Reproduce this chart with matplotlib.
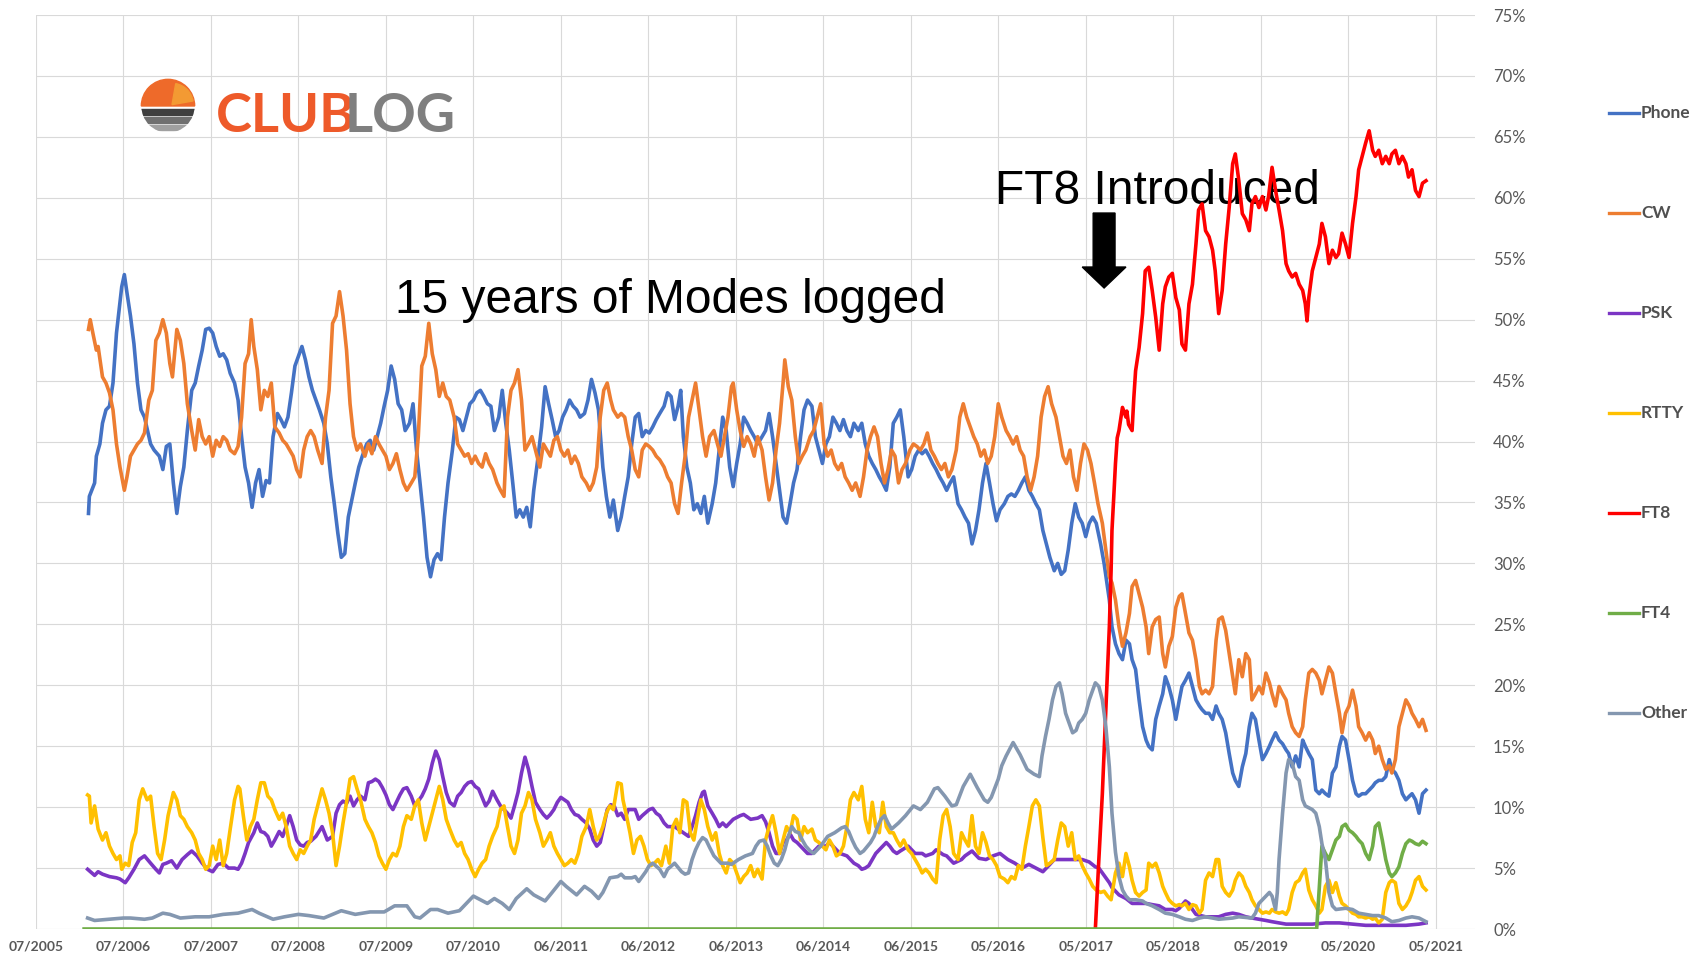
import matplotlib
matplotlib.use("Agg")
import matplotlib.pyplot as plt
from matplotlib.lines import Line2D
from matplotlib.patches import FancyArrow, Wedge, Rectangle, Circle

# ---------------- data (t = years since the 07/2005 gridline, v = % of QSOs) -------------
TICK_LABELS = ['07/2005', '07/2006', '07/2007', '07/2008', '07/2009', '07/2010', '06/2011',
               '06/2012', '06/2013', '06/2014', '06/2015', '05/2016', '05/2017', '05/2018',
               '05/2019', '05/2020', '05/2021']

PHONE = [(0.60,34.1),(0.61,35.5),(0.67,36.6),(0.69,38.8),(0.73,39.8),(0.76,41.5),(0.80,42.6),(0.84,42.9),(0.88,44.8),(0.92,48.9),(0.98,52.7),(1.01,53.7),(1.04,52.2),(1.08,50.3),(1.12,48.0),(1.16,44.8),(1.20,42.6),(1.24,42.0),(1.31,39.8),(1.35,39.3),(1.41,38.8),(1.45,37.7),(1.49,39.6),(1.53,39.8),(1.57,36.6),(1.61,34.1),(1.65,36.3),(1.69,37.9),(1.73,40.9),(1.78,44.2),(1.82,44.8),(1.86,46.2),(1.90,47.5),(1.94,49.2),(1.98,49.3),(2.02,48.9),(2.06,47.8),(2.10,47.0),(2.14,47.2),(2.18,46.7),(2.22,45.6),(2.27,44.8),(2.31,43.4),(2.35,40.4),(2.39,37.9),(2.43,36.6),(2.47,34.6),(2.51,36.6),(2.55,37.7),(2.59,35.5),(2.63,36.8),(2.67,36.6),(2.71,40.4),(2.76,42.3),(2.80,41.8),(2.84,41.2),(2.88,42.0),(2.92,44.0),(2.96,46.2),(3.00,47.0),(3.04,47.8),(3.08,46.7),(3.12,45.3),(3.16,44.2),(3.20,43.4),(3.24,42.6),(3.29,41.5),(3.33,39.8),(3.37,37.1),(3.41,34.9),(3.45,32.5),(3.49,30.5),(3.53,30.8),(3.57,33.8),(3.61,35.2),(3.65,36.6),(3.69,37.9),(3.73,38.8),(3.78,39.8),(3.82,40.1),(3.86,39.3),(3.90,40.4),(3.94,41.5),(3.98,42.9),(4.02,44.2),(4.06,46.2),(4.10,45.1),(4.14,43.1),(4.18,42.6),(4.22,40.9),(4.27,41.5),(4.31,43.1),(4.35,39.3),(4.39,36.6),(4.43,33.8),(4.47,30.5),(4.51,28.9),(4.55,30.3),(4.59,30.8),(4.63,30.3),(4.67,33.8),(4.71,36.6),(4.76,39.3),(4.80,42.0),(4.84,41.8),(4.88,40.9),(4.92,42.0),(4.96,43.1),(5.00,43.4),(5.04,44.0),(5.08,44.2),(5.12,43.7),(5.16,43.1),(5.20,42.9),(5.24,40.9),(5.29,42.0),(5.33,44.2),(5.37,41.5),(5.41,39.3),(5.45,36.6),(5.49,33.8),(5.53,34.4),(5.57,33.8),(5.61,34.6),(5.65,33.0),(5.69,36.0),(5.73,38.2),(5.78,41.2),(5.82,44.5),(5.86,43.1),(5.90,41.8),(5.94,40.4),(5.98,40.9),(6.02,42.0),(6.06,42.6),(6.10,43.4),(6.14,42.9),(6.18,42.6),(6.22,42.0),(6.27,42.3),(6.31,43.4),(6.35,45.1),(6.39,44.0),(6.43,42.6),
         (6.48,37.9),(6.52,35.5),(6.56,33.8),(6.60,35.2),(6.65,32.7),(6.69,33.8),(6.73,35.5),(6.77,37.1),(6.81,39.8),(6.85,42.0),(6.89,42.3),(6.93,40.4),(6.97,40.9),(7.01,40.7),(7.05,41.2),(7.09,41.8),(7.13,42.3),(7.18,42.9),(7.22,44.0),(7.26,43.7),(7.30,41.8),(7.34,42.9),(7.37,44.2),(7.40,40.4),(7.44,37.9),(7.48,36.6),(7.52,34.4),(7.56,34.9),(7.60,34.1),(7.64,35.5),(7.68,33.3),(7.73,34.9),(7.77,36.6),(7.81,39.3),(7.85,42.0),(7.89,40.9),(7.93,37.9),(7.97,36.3),(8.01,38.2),(8.05,39.8),(8.09,42.0),(8.13,41.5),(8.17,40.9),(8.21,40.4),(8.25,39.8),(8.30,40.4),(8.34,40.9),(8.38,42.3),(8.42,40.4),(8.46,38.2),(8.50,36.0),(8.54,33.8),(8.58,33.3),(8.62,34.9),(8.66,36.6),(8.70,37.7),(8.74,40.4),(8.78,42.6),(8.82,43.4),(8.87,42.9),(8.91,40.4),(8.95,39.3),(8.99,38.2),(9.03,39.8),(9.07,40.4),(9.11,42.0),(9.15,41.5),(9.19,40.9),(9.23,41.8),(9.27,40.9),(9.31,40.4),(9.35,41.5),(9.40,40.9),(9.44,41.5),(9.48,39.8),(9.52,38.8),(9.56,38.2),(9.60,37.7),(9.64,37.1),(9.68,36.6),(9.72,36.0),(9.76,37.9),(9.80,41.5),(9.84,42.0),(9.88,42.6),(9.92,40.4),(9.97,37.1),(10.01,37.7),(10.05,38.8),(10.09,39.3),(10.13,39.0),(10.17,39.3),(10.21,38.8),(10.25,38.2),(10.29,37.7),(10.33,37.1),(10.37,36.6),(10.41,36.0),(10.45,36.6),(10.49,37.1),(10.54,34.9),(10.58,34.4),(10.62,33.8),(10.66,33.3),(10.70,31.6),(10.74,32.7),(10.78,34.4),(10.82,36.6),(10.86,38.2),(10.90,36.6),(10.94,34.9),(10.98,33.5),(11.02,34.4),(11.07,34.9),(11.11,35.5),(11.15,35.7),(11.19,35.5),(11.23,36.0),(11.27,36.6),(11.31,37.1),(11.35,36.0),(11.39,35.5),(11.43,34.9),(11.47,34.4),(11.51,32.7),(11.55,31.6),(11.59,30.5),(11.64,29.4),(11.68,30.0),(11.72,29.1),(11.76,29.4),(11.80,31.1),(11.84,33.3),(11.88,34.9),(11.92,33.8),(11.96,33.3),(12.00,32.2),(12.04,33.3),(12.08,33.8),(12.12,33.3),(12.17,31.6),(12.21,30.0),
         (12.27,27.0),(12.30,24.8),(12.34,23.4),(12.38,22.6),(12.42,22.1),(12.46,23.7),(12.50,23.4),(12.53,22.1),(12.57,21.3),(12.61,18.8),(12.65,16.6),(12.69,15.5),(12.72,15.0),(12.76,14.7),(12.80,17.2),(12.84,18.3),(12.88,19.3),(12.91,20.7),(12.95,19.9),(12.99,18.8),(13.03,17.2),(13.07,18.8),(13.10,19.9),(13.14,20.4),(13.18,21.0),(13.22,19.9),(13.26,18.8),(13.30,18.3),(13.33,18.0),(13.37,17.7),(13.41,17.7),(13.45,17.2),(13.49,18.3),(13.52,17.7),(13.56,17.2),(13.60,16.1),(13.64,14.4),(13.68,12.8),(13.71,12.2),(13.75,11.7),(13.79,13.3),(13.83,14.4),(13.87,16.6),(13.90,17.7),(13.94,17.2),(13.98,15.5),(14.02,13.9),(14.06,14.4),(14.10,15.0),(14.13,15.5),(14.17,16.1),(14.21,15.5),(14.25,15.2),(14.29,14.7),(14.32,14.4),(14.36,13.3),(14.40,14.2),(14.44,13.3),(14.48,15.5),(14.51,15.0),(14.55,14.4),(14.59,13.9),(14.63,11.4),(14.67,11.1),(14.70,11.4),(14.74,11.1),(14.78,10.9),(14.82,12.8),(14.86,13.3),(14.90,15.0),(14.93,15.8),(14.97,15.5),(15.01,13.9),(15.05,12.2),(15.09,11.1),(15.12,10.9),(15.16,11.1),(15.20,11.1),(15.24,11.4),(15.28,11.7),(15.31,12.0),(15.35,12.2),(15.39,12.2),(15.43,12.5),(15.47,13.9),(15.50,13.1),(15.54,12.8),(15.58,12.2),(15.62,11.1),(15.66,10.6),(15.70,10.9),(15.73,11.1),(15.77,10.6),(15.81,9.5),(15.85,11.1),(15.89,11.4)]

CW = [(0.60,49.2),(0.62,50.0),(0.65,48.9),(0.69,47.5),(0.71,47.8),(0.76,45.3),(0.80,44.8),(0.84,44.0),(0.88,42.6),(0.92,39.8),(0.96,37.9),(1.01,36.0),(1.04,37.1),(1.08,38.8),(1.12,39.3),(1.16,39.8),(1.20,40.1),(1.24,40.7),(1.29,43.4),(1.33,44.2),(1.37,48.3),(1.41,48.9),(1.45,50.0),(1.49,48.9),(1.53,46.4),(1.56,45.3),(1.61,49.2),(1.65,48.3),(1.69,46.4),(1.73,43.1),(1.78,40.9),(1.82,39.3),(1.86,41.8),(1.90,40.4),(1.94,39.8),(1.98,40.4),(2.02,38.8),(2.06,40.1),(2.10,39.6),(2.14,40.4),(2.18,40.1),(2.22,39.3),(2.27,39.0),(2.31,39.6),(2.35,42.0),(2.39,46.4),(2.43,47.2),(2.46,50.0),(2.49,47.8),(2.53,45.9),(2.57,42.6),(2.61,44.2),(2.65,43.7),(2.69,44.8),(2.73,41.2),(2.78,40.7),(2.82,40.1),(2.86,39.8),(2.90,39.3),(2.94,38.8),(2.98,37.7),(3.02,37.1),(3.06,39.3),(3.10,40.4),(3.14,40.9),(3.18,40.4),(3.22,39.3),(3.27,38.2),(3.31,42.0),(3.35,44.2),(3.39,49.7),(3.43,50.3),(3.47,52.3),(3.51,50.3),(3.55,47.5),(3.59,43.1),(3.63,40.4),(3.67,39.3),(3.71,39.8),(3.76,38.8),(3.80,39.8),(3.84,39.0),(3.88,40.4),(3.92,39.8),(3.96,39.3),(4.00,38.8),(4.04,37.7),(4.08,38.2),(4.12,39.0),(4.16,37.7),(4.20,36.6),(4.24,36.0),(4.29,36.6),(4.33,37.1),(4.37,40.4),(4.41,46.2),(4.45,47.0),(4.49,49.7),(4.53,47.2),(4.57,45.9),(4.61,43.7),(4.65,44.8),(4.69,43.7),(4.73,43.4),(4.78,42.0),(4.82,39.8),(4.86,39.3),(4.90,38.8),(4.94,39.0),(4.98,38.2),(5.02,38.8),(5.06,38.2),(5.10,37.9),(5.14,39.0),(5.18,38.2),(5.22,37.7),(5.27,36.6),(5.31,36.0),(5.35,35.5),(5.39,42.0),(5.43,44.2),(5.47,44.8),(5.51,45.9),(5.55,43.4),(5.59,39.3),(5.63,39.8),(5.67,40.4),(5.71,39.3),(5.76,37.9),(5.80,39.8),(5.84,39.3),(5.88,38.8),(5.92,40.1),(5.96,40.4),(6.00,39.3),(6.04,38.8),(6.08,39.3),(6.12,38.2),(6.16,38.8),(6.20,38.2),(6.24,37.1),(6.29,36.6),(6.33,36.0),(6.37,36.6),(6.41,37.9),(6.45,42.0),(6.49,44.2),(6.53,44.8),(6.57,43.4),
      (6.60,42.6),(6.65,42.0),(6.69,42.3),(6.73,42.0),(6.77,40.4),(6.81,39.3),(6.85,37.7),(6.89,37.1),(6.93,39.3),(6.97,39.8),(7.01,39.6),(7.05,39.3),(7.09,38.8),(7.13,38.5),(7.18,37.9),(7.22,37.1),(7.26,36.6),(7.30,34.9),(7.34,34.1),(7.38,36.6),(7.42,38.8),(7.46,42.0),(7.50,43.4),(7.54,44.8),(7.58,42.6),(7.62,40.4),(7.66,38.8),(7.70,40.4),(7.75,40.9),(7.79,39.8),(7.83,38.8),(7.87,40.4),(7.91,42.0),(7.95,44.5),(7.97,44.8),(8.01,42.6),(8.05,40.9),(8.09,39.6),(8.13,40.4),(8.17,39.8),(8.21,38.8),(8.25,40.4),(8.30,39.3),(8.34,37.1),(8.38,35.2),(8.42,36.6),(8.46,39.3),(8.50,41.5),(8.54,44.8),(8.56,46.7),(8.60,44.5),(8.64,43.4),(8.68,40.4),(8.72,38.2),(8.76,38.8),(8.80,39.3),(8.85,40.4),(8.89,40.9),(8.93,42.0),(8.97,43.1),(9.01,39.8),(9.05,38.8),(9.09,39.3),(9.13,38.2),(9.17,37.7),(9.21,38.2),(9.25,37.1),(9.29,36.6),(9.33,36.0),(9.37,36.6),(9.42,35.5),(9.46,37.1),(9.50,39.3),(9.54,40.4),(9.58,41.2),(9.62,40.4),(9.66,38.2),(9.70,36.6),(9.74,37.7),(9.78,39.3),(9.82,38.8),(9.86,36.6),(9.90,37.7),(9.94,38.2),(9.99,39.3),(10.03,39.8),(10.07,39.6),(10.11,39.3),(10.15,39.8),(10.19,40.7),(10.23,39.3),(10.27,38.8),(10.31,38.2),(10.35,37.7),(10.39,38.2),(10.43,37.1),(10.47,37.7),(10.52,39.3),(10.56,42.0),(10.60,43.1),(10.64,42.0),(10.68,41.2),(10.72,40.4),(10.76,39.8),(10.80,38.8),(10.84,39.3),(10.88,38.2),(10.92,38.8),(10.96,40.4),(11.00,43.1),(11.04,42.0),(11.09,40.9),(11.13,40.4),(11.17,39.8),(11.21,40.4),(11.25,39.3),(11.29,38.8),(11.33,37.1),(11.37,36.0),(11.41,37.1),(11.45,38.8),(11.49,42.0),(11.53,43.7),(11.57,44.5),(11.61,43.1),(11.66,42.0),(11.70,40.4),(11.74,38.8),(11.78,38.2),(11.82,39.3),(11.86,37.1),(11.90,36.0),(11.94,38.2),(11.98,39.8),(12.02,39.3),(12.06,38.2),(12.10,36.6),(12.14,34.9),(12.19,33.3),(12.23,31.1),(12.27,28.9),
      (12.30,28.4),(12.34,27.0),(12.38,24.8),(12.42,23.2),(12.46,24.3),(12.50,25.9),(12.53,28.1),(12.57,28.6),(12.61,27.5),(12.65,26.4),(12.69,24.8),(12.72,22.6),(12.76,24.8),(12.80,25.4),(12.84,25.6),(12.88,22.6),(12.91,21.5),(12.95,23.2),(12.99,24.0),(13.03,26.4),(13.07,27.3),(13.10,27.5),(13.14,25.9),(13.18,24.3),(13.22,23.7),(13.26,22.1),(13.30,19.9),(13.33,19.3),(13.37,19.6),(13.41,19.3),(13.45,19.9),(13.49,23.7),(13.52,25.4),(13.56,25.6),(13.60,24.5),(13.64,22.6),(13.68,20.7),(13.71,19.3),(13.75,22.1),(13.79,20.7),(13.83,22.6),(13.87,22.1),(13.90,18.8),(13.94,19.3),(13.98,19.9),(14.02,19.3),(14.06,21.0),(14.10,20.2),(14.13,19.3),(14.17,18.3),(14.21,19.9),(14.25,19.3),(14.29,18.8),(14.32,17.7),(14.36,16.6),(14.40,16.1),(14.44,15.8),(14.48,16.6),(14.51,18.8),(14.55,21.0),(14.59,21.3),(14.63,21.0),(14.67,20.4),(14.70,19.3),(14.74,20.4),(14.78,21.5),(14.82,21.0),(14.86,19.3),(14.90,17.7),(14.93,16.1),(14.97,17.7),(15.01,18.3),(15.05,19.6),(15.09,18.3),(15.12,16.6),(15.16,16.1),(15.20,15.5),(15.24,16.1),(15.28,15.5),(15.31,14.4),(15.35,15.0),(15.39,13.9),(15.43,13.1),(15.47,13.4),(15.50,12.8),(15.54,13.9),(15.58,16.6),(15.62,17.7),(15.66,18.8),(15.70,18.3),(15.73,17.7),(15.77,17.2),(15.81,16.6),(15.85,17.2),(15.89,16.3)]

PSK = [(0.59,4.9),(0.67,4.4),(0.71,4.7),(0.76,4.5),(0.84,4.3),(0.92,4.2),(0.96,4.1),(1.02,3.8),(1.06,4.2),(1.12,4.9),(1.18,5.7),(1.24,6.0),(1.31,5.4),(1.37,4.9),(1.41,4.6),(1.45,5.3),(1.49,5.4),(1.55,5.6),(1.61,5.0),(1.67,5.7),(1.73,6.1),(1.78,6.4),(1.84,6.0),(1.90,5.4),(1.96,4.9),(2.02,4.7),(2.08,5.3),(2.14,5.4),(2.20,5.0),(2.27,5.0),(2.31,4.9),(2.35,5.4),(2.39,6.2),(2.43,7.1),(2.49,7.9),(2.53,8.7),(2.57,8.0),(2.61,7.9),(2.65,7.6),(2.69,6.8),(2.73,7.3),(2.78,8.0),(2.82,7.6),(2.86,8.4),(2.90,9.3),(2.94,8.4),(2.98,7.3),(3.02,6.9),(3.06,6.8),(3.10,7.1),(3.14,7.2),(3.20,7.6),(3.27,8.4),(3.33,7.3),(3.39,7.6),(3.43,9.5),(3.47,10.2),(3.51,10.5),(3.55,10.3),(3.59,10.9),(3.63,10.1),(3.67,10.6),(3.71,10.9),(3.76,10.6),(3.80,12.0),(3.84,12.1),(3.88,12.3),(3.92,12.1),(3.96,11.6),(4.00,11.0),(4.04,10.2),(4.08,9.8),(4.12,10.4),(4.16,11.0),(4.20,11.5),(4.24,11.6),(4.29,10.9),(4.33,10.1),(4.37,10.5),(4.41,10.9),(4.45,11.5),(4.49,12.3),(4.53,13.6),(4.57,14.6),(4.61,13.9),(4.65,12.5),(4.69,11.2),(4.73,10.4),(4.78,10.1),(4.82,10.9),(4.86,11.2),(4.90,11.7),(4.94,12.0),(4.98,12.1),(5.02,11.7),(5.06,11.5),(5.10,10.8),(5.14,10.1),(5.18,10.5),(5.22,11.3),(5.27,10.6),(5.31,10.1),(5.35,9.8),(5.39,9.5),(5.43,9.1),(5.47,10.1),(5.51,11.2),(5.55,12.8),(5.59,14.1),(5.63,13.1),(5.67,11.7),(5.71,10.4),(5.76,9.8),(5.80,9.4),(5.84,9.1),(5.88,9.4),(5.92,9.8),(5.96,10.4),(6.00,10.8),(6.04,10.6),(6.08,10.4),(6.12,9.8),(6.16,9.4),(6.20,9.3),(6.24,9.0),(6.29,8.7),(6.33,8.2),(6.37,7.3),(6.41,6.8),(6.45,7.1),(6.49,8.4),(6.53,9.8),(6.57,10.2),(6.61,10.1),(6.65,9.3),(6.69,9.5),(6.73,9.0),(6.77,9.8),(6.85,9.8),(6.89,9.0),(6.93,9.3),(7.01,9.8),(7.05,9.9),(7.09,9.5),(7.13,9.3),(7.18,8.7),(7.22,8.4),(7.30,8.4),(7.34,8.2),(7.38,8.0),(7.46,7.6),(7.50,8.4),(7.54,9.3),(7.58,10.4),(7.62,11.2),(7.64,11.3),(7.68,10.1),(7.73,9.5),(7.77,9.0),(7.81,8.4),(7.85,8.7),(7.89,8.4),(7.93,8.7),(7.97,9.0),(8.05,9.3),(8.09,9.4),(8.17,9.0),(8.25,9.1),(8.30,9.3),(8.34,8.8),(8.38,7.9),(8.42,6.8),(8.46,6.2),(8.50,6.2),(8.54,7.1),(8.58,7.3),(8.62,7.8),(8.66,7.3),(8.70,7.1),(8.74,6.8),(8.78,6.5),(8.82,6.2),(8.87,6.2),(8.95,6.8),(9.03,6.8),(9.07,7.1),(9.11,6.8),(9.19,6.2),(9.27,6.0),(9.31,5.7),(9.35,5.4),(9.40,5.2),(9.44,4.9),(9.48,5.0),(9.52,5.2),(9.56,5.7),(9.60,6.2),(9.64,6.5),(9.68,6.8),(9.72,7.1),(9.76,6.8),(9.80,6.4),(9.84,6.2),(9.88,6.4),(9.97,6.8),(10.01,6.5),(10.05,6.2),(10.13,6.2),(10.17,6.0),(10.25,6.2),(10.29,6.5),(10.37,6.1),(10.41,6.0),(10.45,5.7),(10.49,5.4),(10.58,5.7),(10.62,6.0),(10.66,6.2),(10.70,6.4),(10.74,6.1),(10.78,5.8),(10.86,5.7),(10.94,6.0),(11.02,6.2),(11.11,5.7),(11.19,5.4),(11.27,5.0),(11.35,5.3),(11.43,5.0),(11.51,4.7),(11.59,5.3),(11.64,5.7),(11.72,5.7),(11.80,5.7),(11.88,5.7),(11.96,5.7),(12.04,5.5),(12.11,5.1),(12.15,5.0),(12.19,4.6),(12.23,4.2),(12.27,3.8),(12.30,3.4),(12.34,3.1),(12.38,2.8),(12.46,2.5),(12.53,2.1),(12.61,2.1),(12.69,2.1),(12.76,2.0),(12.84,1.9),(12.91,1.6),(12.99,1.6),(13.03,1.5),(13.07,1.7),(13.14,2.3),(13.18,2.1),(13.22,1.6),(13.26,1.2),(13.37,1.0),(13.52,1.0),(13.60,1.2),(13.68,1.3),(13.75,1.2),(13.83,1.0),(13.90,0.9),(13.98,0.8),(14.06,0.7),(14.13,0.6),(14.21,0.5),(14.29,0.4),(14.44,0.4),(14.59,0.4),(14.74,0.5),(14.90,0.5),(15.05,0.4),(15.20,0.3),(15.35,0.3),(15.50,0.3),(15.66,0.3),(15.81,0.4),(15.89,0.5)]

RTTY = [(0.59,11.0),(0.61,10.9),(0.63,8.7),(0.67,10.1),(0.71,8.2),(0.76,7.3),(0.80,7.9),(0.84,6.8),(0.88,6.2),(0.92,5.7),(0.96,6.0),(0.98,4.9),(1.02,5.4),(1.06,5.2),(1.10,7.1),(1.14,7.9),(1.18,10.6),(1.22,11.5),(1.27,10.6),(1.31,10.9),(1.35,8.4),(1.39,6.2),(1.43,5.7),(1.47,7.3),(1.51,9.3),(1.57,11.2),(1.61,10.6),(1.65,9.3),(1.69,9.0),(1.73,8.4),(1.78,7.9),(1.82,7.3),(1.86,6.2),(1.90,5.7),(1.94,4.9),(1.98,5.2),(2.02,6.8),(2.06,5.7),(2.10,7.3),(2.14,5.2),(2.18,6.2),(2.22,8.2),(2.27,10.6),(2.31,11.7),(2.33,11.5),(2.37,9.3),(2.41,7.3),(2.45,8.4),(2.49,9.0),(2.53,10.6),(2.57,12.0),(2.61,12.0),(2.65,10.9),(2.69,10.6),(2.73,9.8),(2.78,9.0),(2.82,9.5),(2.86,8.4),(2.90,6.8),(2.94,6.2),(2.98,5.7),(3.02,6.5),(3.06,6.2),(3.10,6.8),(3.14,7.3),(3.18,9.0),(3.22,10.1),(3.27,11.5),(3.31,10.6),(3.35,9.5),(3.39,7.9),(3.43,5.2),(3.47,6.8),(3.51,8.7),(3.55,10.4),(3.59,12.3),(3.63,12.5),(3.67,11.5),(3.71,10.6),(3.76,9.0),(3.80,8.4),(3.84,7.9),(3.88,7.1),(3.92,6.0),(3.96,5.4),(4.00,4.9),(4.04,5.7),(4.08,6.2),(4.12,6.0),(4.16,6.8),(4.20,8.4),(4.24,9.3),(4.29,9.0),(4.33,10.1),(4.37,10.6),(4.41,8.7),(4.45,7.3),(4.49,8.4),(4.53,9.5),(4.57,10.6),(4.61,11.7),(4.65,10.6),(4.69,9.0),(4.73,8.2),(4.78,7.3),(4.82,6.8),(4.86,7.1),(4.90,6.2),(4.94,5.7),(4.98,4.9),(5.02,4.3),(5.06,4.9),(5.10,5.4),(5.14,5.7),(5.18,6.8),(5.22,7.6),(5.27,8.4),(5.31,9.8),(5.35,10.1),(5.39,8.4),(5.43,6.8),(5.47,6.2),(5.51,7.3),(5.55,9.5),(5.59,10.1),(5.63,11.2),(5.67,10.6),(5.71,9.0),(5.76,7.9),(5.80,6.8),(5.84,7.3),(5.88,7.9),(5.92,6.8),(5.96,6.2),(6.00,5.7),(6.04,5.2),(6.08,5.4),(6.12,5.7),(6.16,5.4),(6.20,6.2),(6.24,7.6),(6.29,8.4),(6.33,9.8),(6.37,8.4),(6.41,7.3),(6.44,7.6),(6.48,8.4),(6.52,9.5),(6.56,10.1),(6.60,9.8),(6.65,12.0),(6.69,11.9),(6.71,10.6),(6.75,9.3),(6.79,7.9),(6.83,6.2),(6.87,7.3),(6.91,7.6),(6.95,6.8),(6.99,5.7),(7.03,5.2),(7.07,5.4),(7.11,5.7),(7.15,5.2),(7.20,6.8),(7.24,5.4),(7.28,8.4),(7.32,9.0),(7.36,7.9),(7.40,10.6),(7.44,10.4),(7.48,7.9),(7.52,7.3),(7.56,9.0),(7.60,10.6),(7.64,9.8),(7.68,8.4),(7.73,7.3),(7.77,7.9),(7.81,6.2),(7.85,5.2),(7.89,4.6),(7.93,5.7),(7.97,5.4),(8.01,4.6),(8.05,3.8),(8.09,4.3),(8.13,4.6),(8.17,5.2),(8.21,4.3),(8.25,4.9),(8.30,4.1),(8.34,7.3),(8.38,8.4),(8.42,9.3),(8.46,7.9),(8.50,6.2),(8.54,7.3),(8.58,8.4),(8.62,7.9),(8.66,9.3),(8.70,9.0),(8.74,7.3),(8.78,8.4),(8.82,7.9),(8.87,8.2),(8.91,7.3),(8.95,7.1),(8.99,6.8),(9.03,6.5),(9.07,7.3),(9.11,6.8),(9.15,6.0),(9.19,6.2),(9.23,6.8),(9.27,8.4),(9.31,10.6),(9.35,11.2),(9.40,10.6),(9.44,11.7),(9.48,9.0),(9.52,7.9),(9.56,10.4),(9.60,8.4),(9.64,7.9),(9.68,10.4),(9.72,8.4),(9.76,7.9),(9.80,7.9),(9.84,7.3),(9.88,6.8),(9.92,7.3),(9.97,6.5),(10.01,6.2),(10.05,5.7),(10.09,5.2),(10.13,4.6),(10.17,4.9),(10.21,4.6),(10.25,4.1),(10.29,3.8),(10.33,7.3),(10.37,9.3),(10.41,9.8),(10.45,8.4),(10.49,6.2),(10.54,5.7),(10.58,7.9),(10.62,7.3),(10.66,6.8),(10.70,9.3),(10.74,6.8),(10.78,6.2),(10.82,7.9),(10.86,7.1),(10.90,6.0),(10.94,5.7),(10.98,5.2),(11.02,4.3),(11.07,4.1),(11.11,3.8),(11.15,4.3),(11.19,4.1),(11.23,5.2),(11.27,4.9),(11.31,6.8),(11.35,8.4),(11.39,10.1),(11.43,10.6),(11.47,10.1),(11.51,7.5),(11.55,5.2),(11.59,5.4),(11.64,5.7),(11.68,7.3),(11.72,8.7),(11.76,8.4),(11.80,6.8),(11.84,7.9),(11.88,5.7),(11.92,6.0),(11.96,5.2),(12.00,4.6),(12.04,4.1),(12.08,3.5),(12.12,3.2),(12.17,3.0),(12.21,3.1),(12.25,2.7),(12.29,2.4),
        (12.34,4.6),(12.38,5.4),(12.42,4.3),(12.46,6.2),(12.50,5.1),(12.53,4.0),(12.57,3.0),(12.61,2.7),(12.65,3.0),(12.69,3.2),(12.72,5.4),(12.76,5.1),(12.80,5.4),(12.84,4.6),(12.88,3.5),(12.91,3.0),(12.95,2.4),(12.99,2.1),(13.03,1.9),(13.07,2.0),(13.10,1.9),(13.14,2.1),(13.18,1.6),(13.22,2.0),(13.26,1.9),(13.30,1.3),(13.33,1.6),(13.37,4.0),(13.41,4.6),(13.45,4.3),(13.49,5.7),(13.52,5.7),(13.56,3.5),(13.60,3.0),(13.64,2.7),(13.68,3.2),(13.71,4.0),(13.75,4.6),(13.79,4.3),(13.83,3.5),(13.87,3.0),(13.90,2.4),(13.94,1.9),(13.98,1.6),(14.02,1.3),(14.06,1.4),(14.10,1.3),(14.13,1.6),(14.17,1.4),(14.21,1.3),(14.25,1.4),(14.29,1.2),(14.32,1.6),(14.36,3.0),(14.40,3.8),(14.44,4.0),(14.48,4.6),(14.51,4.9),(14.55,3.2),(14.59,2.4),(14.63,1.9),(14.67,1.3),(14.70,1.6),(14.74,3.5),(14.78,4.0),(14.82,3.0),(14.86,3.8),(14.90,2.7),(14.93,2.1),(14.97,1.9),(15.01,1.6),(15.05,1.3),(15.09,1.2),(15.12,1.0),(15.16,1.0),(15.20,0.9),(15.24,1.0),(15.28,0.8),(15.31,0.9),(15.35,0.5),(15.39,0.8),(15.43,3.0),(15.47,3.8),(15.50,4.0),(15.54,3.8),(15.58,2.1),(15.62,1.6),(15.66,1.9),(15.70,2.4),(15.73,3.0),(15.77,4.0),(15.81,4.3),(15.85,3.5),(15.89,3.2)]

FT8 = [(12.11,0.0),(12.15,5.7),(12.19,11.1),(12.23,18.0),(12.27,24.8),(12.29,29.4),(12.30,32.7),(12.32,35.4),(12.34,38.2),(12.36,40.3),(12.38,40.9),(12.42,42.8),(12.46,42.0),(12.47,42.5),(12.49,41.4),(12.53,40.9),(12.55,43.6),(12.57,45.8),(12.61,47.7),(12.65,50.5),(12.68,54.0),(12.72,54.3),(12.76,52.4),(12.80,50.2),(12.84,47.5),(12.88,51.3),(12.91,52.7),(12.95,53.5),(12.99,53.8),(13.03,51.8),(13.07,50.8),(13.10,48.0),(13.14,47.5),(13.18,51.3),(13.22,52.9),(13.26,56.2),(13.29,59.0),(13.33,59.5),(13.37,57.3),(13.41,56.8),(13.45,55.7),(13.48,54.0),(13.52,50.5),(13.56,52.4),(13.60,56.2),(13.64,59.2),(13.68,62.8),(13.71,63.6),(13.75,61.4),(13.79,58.7),(13.83,58.2),(13.87,57.3),(13.90,59.5),(13.94,60.1),(13.98,59.2),(14.02,60.1),(14.06,59.0),(14.09,60.1),(14.13,62.5),(14.17,60.6),(14.21,59.0),(14.25,57.3),(14.29,54.6),(14.32,54.0),(14.36,53.5),(14.40,53.8),(14.44,52.9),(14.48,52.4),(14.51,51.3),(14.53,49.9),(14.55,51.8),(14.59,54.0),(14.63,55.1),(14.67,56.2),(14.70,57.9),(14.74,56.8),(14.78,54.6),(14.82,55.7),(14.86,55.1),(14.89,55.4),(14.93,57.1),(14.97,56.2),(15.01,55.1),(15.05,57.9),(15.09,60.1),(15.12,62.3),(15.16,63.4),(15.20,64.5),(15.24,65.5),(15.28,63.9),(15.31,63.4),(15.35,63.9),(15.39,62.8),(15.43,63.4),(15.47,62.8),(15.50,63.6),(15.54,63.9),(15.58,62.8),(15.62,63.4),(15.66,62.8),(15.69,61.7),(15.73,62.3),(15.77,60.6),(15.81,60.1),(15.85,61.2),(15.89,61.4)]

FT4 = [(0.55,0.0),(14.64,0.0),(14.70,6.8),(14.74,6.2),(14.78,5.7),(14.82,6.5),(14.86,7.3),(14.90,7.6),(14.93,8.4),(14.97,8.6),(15.01,8.1),(15.05,7.9),(15.09,7.6),(15.12,7.3),(15.16,7.0),(15.20,6.2),(15.24,5.7),(15.28,6.8),(15.31,8.4),(15.35,8.7),(15.39,7.3),(15.43,5.7),(15.47,4.6),(15.50,4.3),(15.54,4.6),(15.58,5.1),(15.62,6.2),(15.66,7.0),(15.70,7.3),(15.73,7.2),(15.77,7.0),(15.81,6.9),(15.85,7.2),(15.89,7.0)]

OTHER = [(0.59,0.9),(0.67,0.7),(0.84,0.8),(1.00,0.9),(1.08,0.9),(1.24,0.8),(1.33,0.9),(1.45,1.3),(1.53,1.2),(1.65,0.9),(1.82,1.0),(1.98,1.0),(2.14,1.2),(2.31,1.3),(2.47,1.6),(2.55,1.3),(2.71,0.8),(2.84,1.0),(3.00,1.2),(3.12,1.1),(3.29,0.9),(3.49,1.5),(3.65,1.2),(3.82,1.4),(3.98,1.4),(4.10,1.9),(4.24,1.9),(4.33,1.0),(4.39,0.9),(4.51,1.6),(4.59,1.6),(4.71,1.3),(4.84,1.5),(4.92,2.1),(5.00,2.7),(5.08,2.4),(5.16,2.1),(5.24,2.5),(5.33,2.1),(5.41,1.6),(5.49,2.5),(5.61,3.3),(5.69,2.8),(5.82,2.3),(5.90,3.0),(6.00,3.9),(6.06,3.5),(6.18,2.8),(6.27,3.5),(6.35,3.1),(6.43,2.5),(6.48,3.0),(6.52,3.6),(6.56,4.2),(6.65,4.3),(6.69,4.5),(6.73,4.2),(6.81,4.2),(6.85,4.3),(6.89,3.9),(6.93,4.3),(6.97,4.7),(7.01,5.2),(7.05,5.4),(7.13,4.9),(7.18,4.3),(7.22,4.9),(7.30,5.4),(7.38,4.7),(7.42,4.5),(7.46,4.6),(7.50,5.7),(7.54,6.5),(7.58,7.1),(7.62,7.5),(7.66,7.3),(7.70,6.7),(7.75,6.0),(7.79,5.7),(7.83,5.4),(7.91,5.4),(7.95,5.3),(8.03,5.7),(8.11,6.0),(8.19,6.2),(8.23,6.8),(8.27,7.2),(8.32,7.3),(8.36,6.8),(8.40,6.0),(8.44,5.4),(8.48,5.2),(8.52,5.7),(8.56,6.5),(8.60,7.6),(8.64,8.4),(8.68,8.0),(8.72,7.9),(8.76,7.3),(8.80,6.8),(8.85,6.4),(8.89,6.2),(8.97,6.8),(9.05,7.6),(9.13,7.9),(9.21,8.3),(9.25,8.4),(9.29,8.0),(9.33,7.3),(9.37,6.7),(9.42,6.2),(9.46,6.4),(9.54,7.1),(9.58,7.6),(9.62,8.4),(9.66,9.0),(9.70,9.3),(9.74,8.7),(9.78,8.2),(9.86,8.7),(9.94,9.3),(10.03,10.1),(10.11,9.8),(10.19,10.4),(10.27,11.5),(10.31,11.6),(10.39,10.9),(10.47,10.1),(10.52,10.2),(10.60,11.7),(10.68,12.7),(10.76,11.6),(10.84,10.6),(10.88,10.4),(10.92,10.8),(11.00,12.3),(11.04,13.4),(11.09,14.2),(11.17,15.3),(11.25,14.3),(11.33,13.1),(11.41,12.7),(11.47,12.5),(11.50,14.2),(11.54,15.8),(11.58,17.2),(11.62,18.8),(11.66,19.9),(11.70,20.2),(11.73,19.3),(11.77,17.7),(11.81,16.9),(11.85,16.1),(11.89,16.3),(11.92,16.9),(11.96,17.2),(12.00,17.7),(12.04,18.8),(12.08,19.6),(12.11,20.2),(12.15,19.9),(12.19,18.8),(12.23,16.6),(12.27,13.3),(12.30,9.5),(12.34,6.3),(12.38,4.3),(12.42,3.2),(12.46,2.7),(12.50,2.4),(12.57,2.4),(12.65,2.3),(12.69,2.1),(12.76,1.9),(12.84,1.6),(12.91,1.3),(12.99,1.2),(13.07,1.0),(13.14,0.8),(13.22,0.7),(13.30,0.9),(13.37,1.0),(13.45,0.9),(13.52,0.8),(13.68,0.9),(13.75,1.0),(13.90,0.9),(13.94,1.3),(13.98,2.1),(14.02,2.4),(14.06,2.7),(14.10,3.0),(14.13,2.7),(14.17,1.6),(14.19,3.0),(14.21,5.7),(14.25,9.5),(14.29,12.8),(14.32,13.9),(14.36,13.6),(14.40,12.5),(14.44,12.2),(14.48,10.6),(14.51,10.1),(14.59,9.8),(14.63,9.5),(14.67,8.4),(14.70,7.0),(14.74,5.7),(14.78,3.0),(14.82,1.9),(14.86,1.6),(14.97,1.7),(15.05,1.6),(15.12,1.3),(15.20,1.2),(15.28,1.1),(15.35,1.1),(15.43,0.9),(15.50,0.6),(15.58,0.7),(15.66,0.9),(15.73,1.0),(15.81,0.9),(15.89,0.6)]

SERIES = [("Phone", PHONE, "#4472C4"), ("CW", CW, "#ED7D31"), ("PSK", PSK, "#7B35C4"),
          ("RTTY", RTTY, "#FFC000"), ("FT8", FT8, "#FF0000"), ("FT4", FT4, "#70AD47"),
          ("Other", OTHER, "#8497B0")]

# ---------------- figure -------------------------------------------------------------
plt.rcParams['font.family'] = ['Lato', 'DejaVu Sans']
W, H = 1705, 957
fig = plt.figure(figsize=(W / 100, H / 100), dpi=100)
fig.patch.set_facecolor('white')


def fx(px):
    return px / W


def fy(py):
    return 1 - py / H


ax = fig.add_axes([fx(36), fy(929), fx(1475) - fx(36), fy(15) - fy(929)])
ax.set_xlim(0, 16.45)
ax.set_ylim(0, 75)
for s in ax.spines.values():
    s.set_visible(False)
ax.set_xticks(range(len(TICK_LABELS)))
ax.set_xticklabels(TICK_LABELS, fontsize=10, fontweight='bold', color='#595959')
ax.set_yticks(range(0, 80, 5))
ax.set_yticklabels([f"{v}%" for v in range(0, 80, 5)], fontsize=12, color='#595959')
ax.tick_params(axis='x', length=0, pad=8)
ax.tick_params(axis='y', length=0, pad=13, labelleft=False, labelright=True)
ax.grid(True, color='#D9D9D9', linewidth=0.8)
ax.set_axisbelow(True)

for i, (name, pts, col) in enumerate(SERIES):
    t = [p[0] for p in pts]
    v = [p[1] for p in pts]
    ax.plot(t, v, color=col, linewidth=2.6, solid_joinstyle='round', zorder=3 + i * 0.1)

# annotation texts (drawn under the lines, like the reference)
ax.text(fx(395), fy(313), "15 years of Modes logged", transform=fig.transFigure,
        fontsize=34.5, family=['Liberation Sans', 'DejaVu Sans'], ha='left', va='baseline',
        color='black', zorder=2)
ax.text(fx(995), fy(204), "FT8 Introduced", transform=fig.transFigure,
        fontsize=34.5, family=['Liberation Sans', 'DejaVu Sans'], ha='left', va='baseline',
        color='black', zorder=2)

# arrow pointing to FT8 introduction
ax.add_patch(FancyArrow(12.21, 58.75, 0, -6.15, width=0.25, head_width=0.5, head_length=1.72,
                        length_includes_head=True, color='black', zorder=5))

# legend on the right
for i, (name, pts, col) in enumerate(SERIES):
    y = 112.7 + 100.1 * i
    fig.add_artist(Line2D([fx(1609), fx(1639)], [fy(y), fy(y)], color=col, linewidth=2.4,
                          transform=fig.transFigure))
    fig.text(fx(1641), fy(y), name, fontsize=12.5, fontweight='bold', color='#505050',
             ha='left', va='center')

# CLUBLOG logo
fig.text(fx(216), fy(132), "CLUB", fontsize=39, fontweight='bold', color='#EE5A2A',
         ha='left', va='baseline')
fig.text(fx(456), fy(132), "LOG", fontsize=39, fontweight='bold', color='#7F7F7F',
         ha='right', va='baseline')
lax = fig.add_axes([fx(140), fy(134), fx(196) - fx(140), fy(78) - fy(134)])
lax.set_xlim(-1.05, 1.05)
lax.set_ylim(-1.05, 1.05)
lax.axis('off')
circ = Circle((0, 0), 1.0, transform=lax.transData)
cap = Wedge((0, 0), 1.0, 0, 180, color='#EE6A2A')
lax.add_patch(cap)
cap2 = Wedge((0.15, 0.05), 0.8, 10, 80, color='#F39A33')
lax.add_patch(cap2)
for (y0, y1, c) in [(-0.32, -0.1, '#3F3F3F'), (-0.62, -0.42, '#707070'), (-0.9, -0.72, '#A0A0A0')]:
    r = Rectangle((-1.1, y0), 2.2, y1 - y0, color=c)
    lax.add_patch(r)
    r.set_clip_path(circ)

fig.savefig("out.png", dpi=100, facecolor='white')
